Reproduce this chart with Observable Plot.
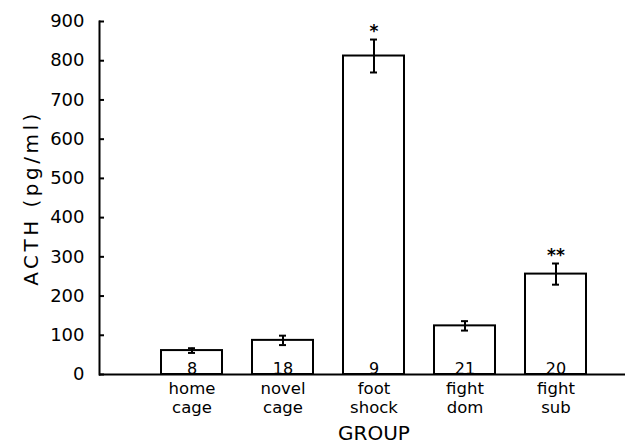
<!DOCTYPE html>
<html><head><meta charset="utf-8">
<script src="https://cdn.jsdelivr.net/npm/d3@7"></script>
<script src="https://cdn.jsdelivr.net/npm/@observablehq/plot@0.6"></script>
<style>html,body{margin:0;padding:0;background:#fff} svg{display:block}</style>
</head><body><div id="chart"></div>
<script>
const groups = ["home cage", "novel cage", "foot shock", "fight dom", "fight sub"];
const means = [61, 87, 812, 124, 256];
const sems = [6, 12, 42, 12, 27];
const ns = [8, 18, 9, 21, 20];
const sig = ["", "", "*", "", "**"];
const yTicks = [0, 100, 200, 300, 400, 500, 600, 700, 800, 900];
const yLabel = "ACTH (pg/ml)";
const xLabel = "GROUP";

const data = groups.map((g, i) => ({group: g, mean: means[i], sem: sems[i], n: ns[i], sig: sig[i]}));

const W = 631, H = 444, mL = 99, mR = 6, mT = 21, mB = 70;
const font = "DejaVu Sans";

const chart = Plot.plot({
  width: W, height: H,
  marginLeft: mL, marginRight: mR, marginTop: mT, marginBottom: mB,
  style: {fontFamily: font, background: "#fff", color: "#000"},
  x: {domain: groups, paddingInner: 0.332, paddingOuter: 0.547, align: 0.61, label: null},
  y: {domain: [0, 900], label: null},
  marks: [
    Plot.barY(data, {x: "group", y: "mean", fill: "#fff", stroke: "#000", strokeWidth: 2}),
    Plot.ruleX(data, {x: "group", y1: d => d.mean - d.sem, y2: d => d.mean + d.sem, stroke: "#000", strokeWidth: 2}),
    Plot.tickY(data, {x: "group", y: d => d.mean + d.sem, stroke: "#000", strokeWidth: 2, insetLeft: 27, insetRight: 27}),
    Plot.tickY(data, {x: "group", y: d => d.mean - d.sem, stroke: "#000", strokeWidth: 2, insetLeft: 27, insetRight: 27}),
    Plot.text(data, {x: "group", y: 0, text: d => String(d.n), lineAnchor: "bottom", dy: -1, fontSize: 16, fill: "#000"}),
    Plot.text(data, {x: "group", y: d => d.mean + d.sem, text: "sig", lineAnchor: "bottom", dy: -3, fontSize: 17, fontWeight: "bold", fill: "#000"}),
    Plot.ruleY([0], {stroke: "#000", strokeWidth: 2}),
    Plot.frame({anchor: "left", stroke: "#000", strokeWidth: 2}),
    Plot.tickY(yTicks, {y: d => d, stroke: "#000", strokeWidth: 2, insetRight: W - mL - mR - 5}),
    Plot.axisY({ticks: yTicks, tickSize: 0, tickPadding: 15, fontSize: 18, label: null}),
    Plot.axisX({tickSize: 0, tickPadding: 6, fontSize: 16.5, lineHeight: 1.16, tickFormat: d => d.replace(" ", "\n"), label: null}),
    Plot.text([yLabel], {frameAnchor: "left", rotate: -90, dx: -68, textAnchor: "middle", lineAnchor: "middle", fontSize: 20, fill: "#000", text: d => d}),
    Plot.text([xLabel], {x: [groups[2]], frameAnchor: "bottom", lineAnchor: "bottom", dy: 65, fontSize: 20, fill: "#000", text: d => d})
  ]
});
d3.select(chart).selectAll("text").filter(function() { return this.textContent === yLabel; }).style("letter-spacing", "3.5px");
document.getElementById("chart").appendChild(chart);
</script>
</body></html>
